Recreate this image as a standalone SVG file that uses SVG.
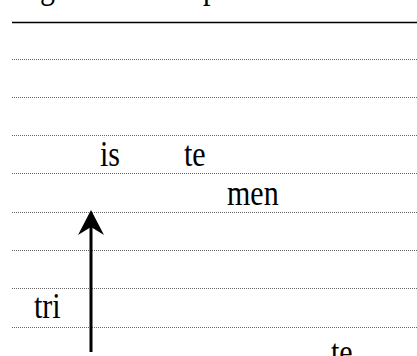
<svg xmlns="http://www.w3.org/2000/svg" width="417" height="356" viewBox="0 0 417 356">
<style>
.t{font-family:"Liberation Serif","Times New Roman",serif;font-size:30px;fill:#000}
.d{stroke:#666;stroke-width:1;stroke-dasharray:1 1;fill:none}
</style>
<rect width="417" height="356" fill="#fff"/>
<g id="title">
<text class="t" transform="translate(40,-2) scale(1,1.2)">g</text>
<text class="t" transform="translate(203,-2) scale(1,1.2)">p</text>
</g>
<g id="rules">
<line x1="12" y1="22.5" x2="417" y2="22.5" stroke="#000" stroke-width="1.6"/>
<line class="d" x1="12" y1="59.5" x2="417" y2="59.5"/>
<line class="d" x1="12" y1="97.5" x2="417" y2="97.5"/>
<line class="d" x1="12" y1="135.5" x2="417" y2="135.5"/>
<line class="d" x1="12" y1="173.5" x2="417" y2="173.5"/>
<line class="d" x1="12" y1="212.5" x2="417" y2="212.5"/>
<line class="d" x1="12" y1="250.5" x2="417" y2="250.5"/>
<line class="d" x1="12" y1="288.5" x2="417" y2="288.5"/>
<line class="d" x1="12" y1="327.5" x2="417" y2="327.5" stroke-width="1.8" stroke="#444"/>
</g>
<g id="label-is"><text class="t" transform="translate(100,166) scale(1,1.2)">is</text></g>
<g id="label-te1"><text class="t" transform="translate(184,166) scale(1,1.2)">te</text></g>
<g id="label-men"><text class="t" transform="translate(227,205) scale(1,1.2)">men</text></g>
<g id="label-tri"><text class="t" transform="translate(34,318) scale(1,1.2)">tri</text></g>
<g id="label-te2"><text class="t" transform="translate(331,364) scale(1,1.2)">te</text></g>
<g id="connectors">
<line x1="91" y1="352" x2="91" y2="224" stroke="#000" stroke-width="3"/>
<polygon points="91,210 104,235 91,227 78,235" fill="#000"/>
</g>
</svg>
